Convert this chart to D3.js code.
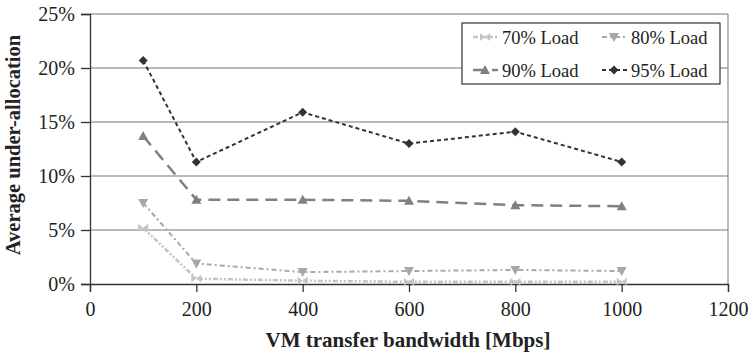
<!DOCTYPE html>
<html>
<head>
<meta charset="utf-8">
<script src="https://cdn.jsdelivr.net/npm/d3@7"></script>
<style>
  body { margin: 0; background: #fff; }
</style>
</head>
<body>
<svg id="chart" width="752" height="354"></svg>
<script>
const WIDTH = 752, HEIGHT = 354;
const FONT = "Liberation Serif";

// Data
const bandwidth = [100, 200, 400, 600, 800, 1000];
const load70 = [5.2, 0.5, 0.3, 0.2, 0.2, 0.2];
const load80 = [7.5, 1.9, 1.1, 1.2, 1.3, 1.2];
const load90 = [13.7, 7.8, 7.8, 7.7, 7.3, 7.2];
const load95 = [20.7, 11.3, 15.9, 13.0, 14.1, 11.3];
const seriesNames = ["70% Load", "80% Load", "90% Load", "95% Load"];
const xTicks = [0, 200, 400, 600, 800, 1000, 1200];
const yTicks = [0, 5, 10, 15, 20, 25];

// Line styles per series
const styles = [
  { color: "#c4c4c4", dash: "5,2,2,2,2,2", marker: "bowtie", width: 2.5 },
  { color: "#a8a8a8", dash: "5,3,2,3", marker: "down", width: 2 },
  { color: "#808080", dash: "12,7", marker: "up", width: 2.5 },
  { color: "#333333", dash: "4,3", marker: "diamond", width: 2 }
];
const allSeries = [load70, load80, load90, load95];

const svg = d3.select("#chart").attr("font-family", FONT);
const x = d3.scaleLinear().domain([0, 1200]).range([90, 728]);
const y = d3.scaleLinear().domain([0, 25]).range([284, 14]);

// grid lines
svg.append("g").selectAll("line")
  .data(yTicks.slice(1))
  .enter().append("line")
  .attr("x1", x(0)).attr("x2", x(1200))
  .attr("y1", d => y(d)).attr("y2", d => y(d))
  .style("stroke", "#777").style("stroke-width", 1);
// right border
svg.append("line")
  .attr("x1", x(1200)).attr("x2", x(1200))
  .attr("y1", y(0)).attr("y2", y(25))
  .style("stroke", "#777").style("stroke-width", 1);

// axes
const xAxis = d3.axisBottom(x).tickValues(xTicks).tickSize(8).tickPadding(10)
  .tickFormat(d3.format("d"));
const yAxis = d3.axisLeft(y).tickValues(yTicks).tickSize(9).tickPadding(6)
  .tickFormat(d => d + "%");

const gx = svg.append("g").attr("transform", "translate(0," + y(0) + ")").call(xAxis);
const gy = svg.append("g").attr("transform", "translate(" + x(0) + ",0)").call(yAxis);
[gx, gy].forEach(g => {
  g.attr("font-family", FONT).attr("font-size", 20);
  g.select(".domain").style("stroke", "#333").style("stroke-width", 1.3);
  g.selectAll(".tick line").style("stroke", "#333").style("stroke-width", 1.3);
  g.selectAll("text").attr("font-family", FONT).attr("fill", "#222");
});

// axis titles
svg.append("text")
  .attr("x", 408).attr("y", 347)
  .attr("font-family", FONT).attr("font-size", 21).attr("font-weight", "bold")
  .attr("text-anchor", "middle").attr("fill", "#222")
  .text("VM transfer bandwidth [Mbps]");
svg.append("text")
  .attr("transform", "rotate(-90)")
  .attr("x", -145).attr("y", 20)
  .attr("font-family", FONT).attr("font-size", 20.5).attr("font-weight", "bold")
  .attr("text-anchor", "middle").attr("fill", "#222")
  .text("Average under-allocation");

// marker drawing
function drawMarker(g, type, cx, cy, color) {
  let path;
  if (type === "bowtie") {
    path = `M${cx-5},${cy-4} L${cx},${cy} L${cx-5},${cy+4} Z M${cx+5},${cy-4} L${cx},${cy} L${cx+5},${cy+4} Z`;
  } else if (type === "down") {
    path = `M${cx-5},${cy-4} L${cx+5},${cy-4} L${cx},${cy+5} Z`;
  } else if (type === "up") {
    path = `M${cx-5},${cy+4} L${cx+5},${cy+4} L${cx},${cy-5} Z`;
  } else {
    path = `M${cx},${cy-4.5} L${cx+4.5},${cy} L${cx},${cy+4.5} L${cx-4.5},${cy} Z`;
  }
  g.append("path").attr("d", path).style("fill", color).style("stroke", "none");
}

const line = d3.line().x((d, i) => x(bandwidth[i])).y(d => y(d));

allSeries.forEach((vals, s) => {
  const st = styles[s];
  const g = svg.append("g");
  g.append("path")
    .datum(vals)
    .attr("d", line)
    .style("fill", "none")
    .style("stroke", st.color)
    .style("stroke-width", st.width)
    .style("stroke-dasharray", st.dash);
  vals.forEach((v, i) => drawMarker(g, st.marker, x(bandwidth[i]), y(v), st.color));
});

// legend
const legend = svg.append("g");
legend.append("rect")
  .attr("x", 462).attr("y", 23).attr("width", 258).attr("height", 61)
  .style("fill", "#fff").style("stroke", "#333").style("stroke-width", 1.2);
const legendPos = [[473, 37], [602, 37], [473, 70], [602, 70]];
seriesNames.forEach((name, s) => {
  const st = styles[s];
  const [lx, ly] = legendPos[s];
  legend.append("line")
    .attr("x1", lx).attr("x2", lx + 25)
    .attr("y1", ly).attr("y2", ly)
    .style("stroke", st.color).style("stroke-width", st.width)
    .style("stroke-dasharray", st.dash);
  drawMarker(legend, st.marker, lx + 12, ly, st.color);
  legend.append("text")
    .attr("x", lx + 29).attr("y", ly + 7)
    .attr("font-family", FONT).attr("font-size", 18.5).attr("fill", "#222")
    .text(name);
});
</script>
</body>
</html>
